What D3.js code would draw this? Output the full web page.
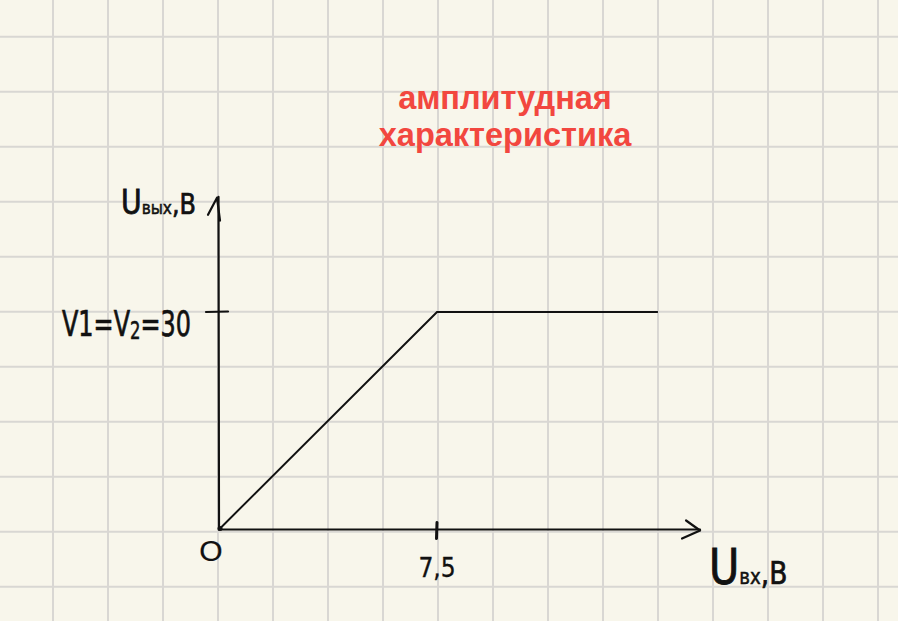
<!DOCTYPE html>
<html>
<head>
<meta charset="utf-8">
<script src="https://cdn.jsdelivr.net/npm/d3@7"></script>
<style>
  html, body { margin: 0; padding: 0; background: #f8f6eb; }
  svg { display: block; }
</style>
</head>
<body>
<svg id="chart" width="898" height="621"></svg>
<script>
// ---- data ----
const titleLines = ["амплитудная", "характеристика"];
const inputVoltage = [0, 7.5, 15.1];     // U вх, В
const outputVoltage = [0, 30, 30];       // U вых, В
const xTickValues = [7.5];
const xTickLabels = ["7,5"];
const yTickValues = [30];
const yTickLabels = ["V1=V2=30"];
const originLabel = "O";
const xAxisMax = 16.55;
const yAxisMax = 45.9;

const W = 898, H = 621;
const svg = d3.select("#chart");

// paper background
svg.append("rect").attr("width", W).attr("height", H).attr("fill", "#f8f6eb");

// grid paper lines
const gridStep = 55;
const gx = d3.range(-2, W + 1, gridStep);
const gy = d3.range(36.7, H + 1, gridStep);
svg.append("g").selectAll("line.v").data(gx).join("line")
  .attr("x1", d => d).attr("x2", d => d).attr("y1", 0).attr("y2", H)
  .attr("stroke", "#d9d7d3").attr("stroke-width", 2);
svg.append("g").selectAll("line.h").data(gy).join("line")
  .attr("y1", d => d).attr("y2", d => d).attr("x1", 0).attr("x2", W)
  .attr("stroke", "#d9d7d3").attr("stroke-width", 2);

// scales
const x = d3.scaleLinear().domain([0, 7.5]).range([219, 437]);
const y = d3.scaleLinear().domain([0, 30]).range([529.5, 312]);

const ink = "#111";
const axes = svg.append("g").attr("stroke", ink).attr("fill", "none")
  .attr("stroke-linecap", "round").attr("stroke-linejoin", "round");

// y axis
axes.append("line")
  .attr("x1", x(0)).attr("x2", x(0) - 0.5)
  .attr("y1", y(0)).attr("y2", y(yAxisMax)).attr("stroke-width", 2.2);
// y arrow (hand-drawn single stroke)
axes.append("path")
  .attr("d", `M${x(0) - 11},${y(yAxisMax) + 18} L${x(0) - 2},${y(yAxisMax) + 1} L${x(0) + 1},${y(yAxisMax) + 24}`)
  .attr("stroke-width", 2.2);

// x axis
axes.append("line")
  .attr("x1", x(0)).attr("x2", x(xAxisMax))
  .attr("y1", y(0)).attr("y2", y(0)).attr("stroke-width", 2.2);
axes.append("path")
  .attr("d", `M${x(xAxisMax) - 14},${y(0) - 9} L${x(xAxisMax)},${y(0) + 1} L${x(xAxisMax) - 18},${y(0) + 9}`)
  .attr("stroke-width", 2.2);

// ticks
axes.selectAll("line.xt").data(xTickValues).join("line")
  .attr("x1", d => x(d)).attr("x2", d => x(d) - 0.5)
  .attr("y1", y(0) - 7).attr("y2", y(0) + 9).attr("stroke-width", 3);
axes.selectAll("line.yt").data(yTickValues).join("line")
  .attr("x1", x(0) - 13).attr("x2", x(0) + 9)
  .attr("y1", d => y(d)).attr("y2", d => y(d) - 0.5).attr("stroke-width", 2.2);

// characteristic line
const line = d3.line().x(d => x(d[0])).y(d => y(d[1]));
svg.append("path")
  .datum(inputVoltage.map((v, i) => [v, outputVoltage[i]]))
  .attr("d", line).attr("fill", "none").attr("stroke", ink).attr("stroke-width", 2);

svg.append("circle").attr("cx", x(0) + 1).attr("cy", y(0) - 1).attr("r", 2.5).attr("fill", ink);

// handwriting-like labels
const hand = "'DejaVu Sans Condensed', 'DejaVu Sans', sans-serif";
const labels = svg.append("g").attr("fill", ink).attr("font-family", hand)
  .attr("stroke", ink);

// place pieces one after another as separate texts (no overlap)
function seq(x0, baseline, pieces, sx) {
  let cx = x0;
  pieces.forEach(p => {
    const t = labels.append("text")
      .attr("x", cx).attr("y", baseline + (p.dy || 0))
      .attr("font-size", p.size).attr("stroke-width", p.sw || 0.6)
      .attr("transform", `translate(${cx},0) scale(${sx},1) translate(${-cx},0)`)
      .text(p.t);
    cx += t.node().getComputedTextLength() * sx + (p.gap || 0);
  });
}

// origin
labels.append("text").attr("x", x(0) - 8).attr("y", y(0) + 31)
  .attr("text-anchor", "middle").attr("font-size", 30)
  .attr("stroke-width", 0.2).attr("font-family", "'Liberation Sans', sans-serif")
  .attr("font-weight", "normal").text(originLabel);

// x tick labels
labels.selectAll("text.xtl").data(xTickValues).join("text")
  .attr("x", d => x(d)).attr("y", y(0) + 47)
  .attr("text-anchor", "middle").attr("font-size", 26).attr("stroke-width", 0.3)
  .text((d, i) => xTickLabels[i]);

// y tick label: V1=V2=30 with subscript 2
yTickValues.forEach((v, i) => {
  const m = yTickLabels[i].match(/^V1=V(2)=(\d+)$/);
  seq(62, y(v) + 24, [
    { t: "V1=V", size: 35, sw: 0.7 },
    { t: m[1], size: 24, dy: 3, sw: 0.6 },
    { t: "=" + m[2], size: 35, sw: 0.7 }
  ], 0.76);
});

// y axis title: Uвых,B
seq(121, 214, [
  { t: "U", size: 33, sw: 0.8 },
  { t: "вых", size: 18, sw: 0.5 },
  { t: ",B", size: 28, sw: 0.7 }
], 0.95);

// x axis title: Uвх,B
seq(709, 584, [
  { t: "U", size: 50, sw: 0.9 },
  { t: "вх", size: 22, sw: 0.5 },
  { t: ",B", size: 32, sw: 0.7 }
], 0.92);

// title
svg.append("g").selectAll("text").data(titleLines).join("text")
  .attr("x", 505).attr("y", (d, i) => 109 + i * 37)
  .attr("text-anchor", "middle")
  .attr("font-family", "'Liberation Sans', Arial, sans-serif")
  .attr("font-weight", "bold").attr("font-size", 32.5)
  .attr("fill", "#f2473f")
  .text(d => d);
</script>
</body>
</html>
